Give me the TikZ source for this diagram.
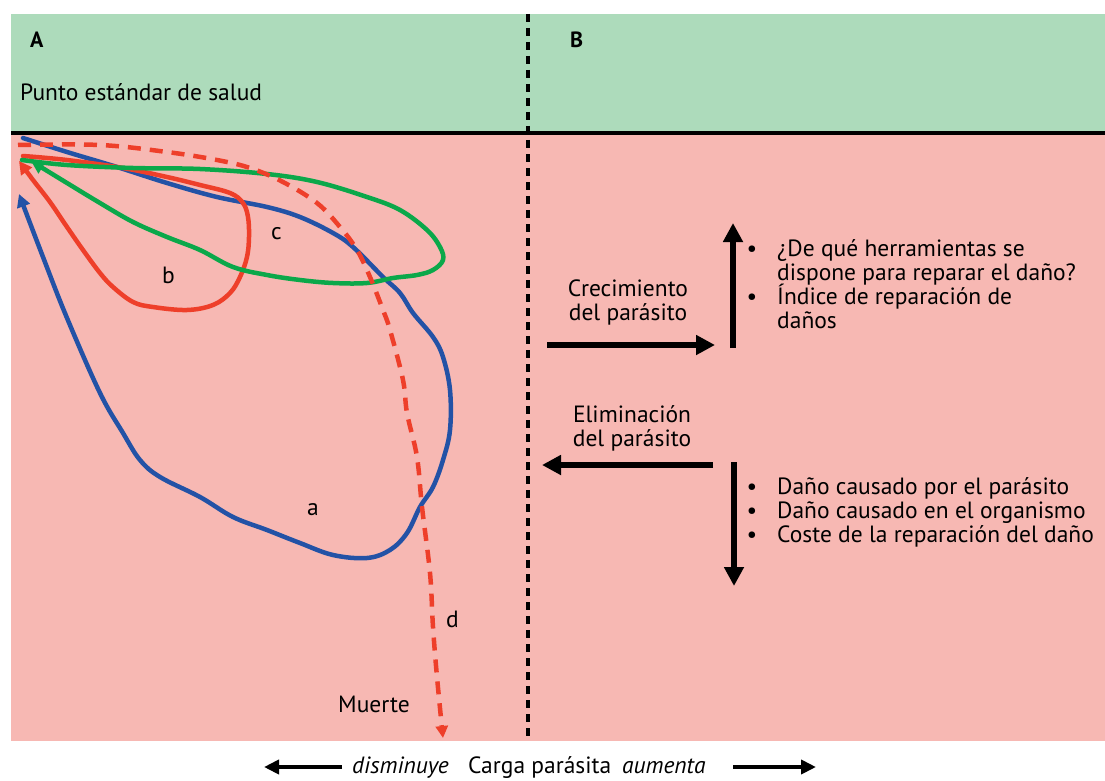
\documentclass[tikz,border=0pt]{standalone}
\usepackage{fontspec}
\setmainfont{PT Sans}
\usetikzlibrary{arrows.meta}
\definecolor{bandgreen}{HTML}{ADDBBB}
\definecolor{pinkbg}{HTML}{F7B8B3}
\definecolor{cblue}{HTML}{2352A6}
\definecolor{cred}{HTML}{EE3F2A}
\definecolor{cgreen}{HTML}{0BA84A}
\begin{document}
\begin{tikzpicture}[x=1pt,y=-1pt,
  txt/.style={inner sep=0pt,anchor=base west,font=\fontsize{23.5}{27}\selectfont},
  ctxt/.style={inner sep=0pt,anchor=base,font=\fontsize{23.5}{27}\selectfont},
  bigarrow/.style={line width=6.5pt,-{Triangle[length=19pt,width=19pt]}},
  axisarrow/.style={line width=4.5pt,-{Triangle[length=15pt,width=14pt]}},
  curve/.style={line width=4.5pt,line cap=round,line join=round,-{Triangle[length=13pt,width=13pt]}}
]
\useasboundingbox (0,0) rectangle (1105,781);
% backgrounds
\fill[bandgreen] (11,14) rectangle (1105,133);
\fill[pinkbg] (11,133) rectangle (1105,741);
\coordinate (hl) at (11,133);
\coordinate (hr) at (1105,133);
\draw[line width=3.5pt] (hl) -- (hr);
\coordinate (vt) at (528,14);
\coordinate (vb) at (528,741);
\draw[line width=3.5pt,dash pattern=on 8pt off 6pt] (vt) -- (vb);

% headings
\node[txt,font=\fontsize{22}{25}\selectfont\bfseries] (A) at (30,48) {A};
\node[txt,font=\fontsize{22}{25}\selectfont\bfseries] (B) at (570,48) {B};
\node[txt] (punto) at (20,101) {Punto estándar de salud};

% curves
\draw[curve,cblue] plot[smooth,tension=0.6] coordinates {
 (23,138) (67,152) (117,167) (167,183) (217,197) (267,207) (300,217) (333,233)
 (353,247) (383,277) (400,293) (413,313) (433,337) (443,357) (450,390) (450,430)
 (443,460) (433,487) (420,507) (407,533) (390,550) (367,558) (333,555) (300,543)
 (267,530) (233,517) (200,497) (160,477) (140,460) (123,433) (100,393) (67,318)
 (43,257) (19,194)};
\draw[curve,cred] plot[smooth,tension=0.6] coordinates {
 (23,156) (67,160) (123,168) (167,177) (200,185) (230,193) (243,203) (248,217)
 (249,237) (247,257) (240,277) (230,293) (213,305) (187,310) (153,307) (133,302)
 (113,287) (100,273) (83,250) (67,227) (50,202) (33,180) (19,161)};
\draw[curve,cgreen] plot[smooth,tension=0.6] coordinates {
 (22,160) (67,165) (133,168) (200,169) (267,174) (317,182) (367,197) (400,210)
 (427,230) (440,247) (443,260) (433,270) (417,275) (393,278) (367,283) (333,283)
 (300,280) (267,275) (233,267) (200,250) (167,237) (133,222) (100,203) (67,183)
 (31,161)};
\draw[curve,cred,line width=4.5pt,line cap=butt,dash pattern=on 13pt off 9pt,
  -{Triangle[length=12pt,width=12pt]}] plot[smooth,tension=0.6] coordinates {
 (18,145) (100,145) (167,152) (217,160) (250,168) (283,182) (317,203) (340,227)
 (357,250) (370,277) (383,310) (390,330) (403,380) (407,413) (417,457) (422,507)
 (430,573) (433,627) (437,677) (443,738)};

% curve labels
\node[txt] (lc) at (271,239) {c};
\node[txt] (lb) at (162,283) {b};
\node[txt] (la) at (307,515) {a};
\node[txt] (ld) at (446,627) {d};
\node[txt] (muerte) at (338,712) {Muerte};

% right panel, upper
\node[ctxt] (crec1) at (628,296) {Crecimiento};
\node[ctxt] (crec2) at (628,320) {del parásito};
\coordinate (ga) at (547,345);
\coordinate (gb) at (715,345);
\draw[bigarrow] (ga) -- (gb);
\coordinate (ua) at (733,348);
\coordinate (ub) at (733,223);
\draw[bigarrow] (ua) -- (ub);
\node[ctxt] (bu1) at (752,256) {•};
\node[txt] (t1) at (777,256) {¿De qué herramientas se};
\node[txt] (t2) at (777,280) {dispone para reparar el daño?};
\node[ctxt] (bu2) at (752,304) {•};
\node[txt] (t3) at (777,304) {Índice de reparación de};
\node[txt] (t4) at (777,328) {daños};

% right panel, lower
\node[ctxt] (elim1) at (632,422) {Eliminación};
\node[ctxt] (elim2) at (632,446) {del parásito};
\coordinate (ea) at (713,465);
\coordinate (eb) at (542,465);
\draw[bigarrow] (ea) -- (eb);
\coordinate (da) at (734,462);
\coordinate (db) at (734,586);
\draw[bigarrow] (da) -- (db);
\node[ctxt] (bu3) at (752,494) {•};
\node[txt] (d1) at (777,494) {Daño causado por el parásito};
\node[ctxt] (bu4) at (752,518) {•};
\node[txt] (d2) at (777,518) {Daño causado en el organismo};
\node[ctxt] (bu5) at (752,542) {•};
\node[txt] (d3) at (777,542) {Coste de la reparación del daño};

% bottom axis
\node[txt] (dism) at (352,773) {\itshape disminuye};
\node[txt] (carga) at (468,773) {Carga parásita};
\node[txt] (aum) at (622,773) {\itshape aumenta};
\coordinate (la1) at (342,767);
\coordinate (la2) at (264,767);
\draw[axisarrow] (la1) -- (la2);
\coordinate (ra1) at (733,767);
\coordinate (ra2) at (816,767);
\draw[axisarrow] (ra1) -- (ra2);
\end{tikzpicture}
\end{document}
